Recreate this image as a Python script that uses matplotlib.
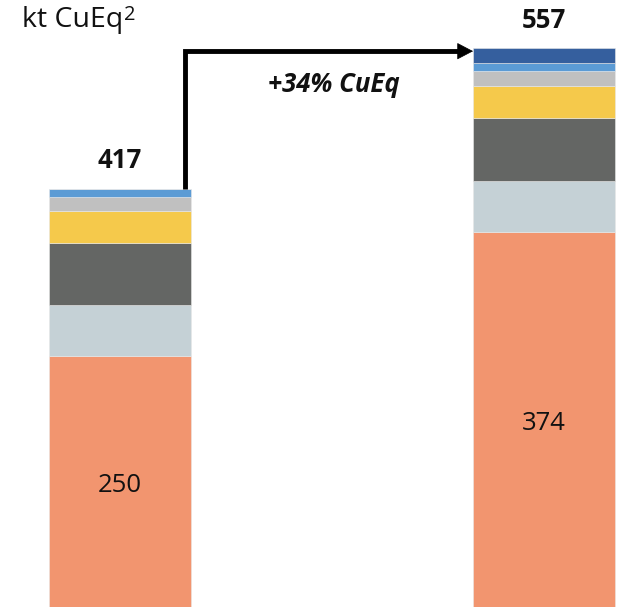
import matplotlib
matplotlib.use("Agg")
import matplotlib.pyplot as plt
import numpy as np

plt.rcParams['font.family'] = ['Open Sans', 'DejaVu Sans']

categories = ["Current", "Future"]
# segments from bottom to top
seg_names = ["Orange", "Light", "Dark", "Yellow", "Gray", "Blue", "DarkBlue"]
values_left = [250, 51, 62, 32, 14, 8, 0]
values_right = [374, 51, 62, 32, 15, 8, 15]
totals = [417, 557]
colors = ["#F2956F", "#C5D1D6", "#646664", "#F5C94B", "#C0C0C0", "#5B9BD5", "#355F9E"]
growth_label = "+34% CuEq"
unit_label = "kt CuEq"
unit_sup = "2"

fig = plt.figure(figsize=(6.28, 6.07), dpi=100)
ax = fig.add_axes([0, 0, 1, 1])
ax.set_xlim(-0.2832, 1.1987)
ax.set_ylim(0, 605)
ax.axis('off')

x = np.arange(len(categories))
width = 0.334
data = np.array([values_left, values_right]).T
bottom = np.zeros(2)
for i, (row, c) in enumerate(zip(data, colors)):
    ax.bar(x, row, width, bottom=bottom, color=c, edgecolor='#e8e8e8', linewidth=0.4)
    bottom += row

# orange segment labels
for xi, v in zip(x, data[0]):
    ax.annotate(str(v), (xi, v / 2), xytext=(0, -3), textcoords='offset points',
                ha='center', va='center', fontsize=18.5, color='#111111')

# totals
for xi, t in zip(x, totals):
    ax.annotate(str(t), (xi, t), xytext=(0, 20), textcoords='offset points',
                ha='center', va='center', fontsize=18.5, fontweight='bold', color='#111111')

# growth arrow
xv = x[0] + width / 2 - 0.013
yh = totals[1] - 3
xe = x[1] - width / 2
xh = xe - 0.035
ax.plot([xv, xv, xh + 0.005], [totals[0], yh, yh], color='black', lw=3.5,
        solid_capstyle='butt', solid_joinstyle='miter')
ax.annotate('', xy=(xe, yh), xytext=(xh, yh),
            arrowprops=dict(arrowstyle='-|>,head_length=1.05,head_width=0.55', lw=0.5, color='black',
                            shrinkA=0, shrinkB=0))
ax.text((x[0] + x[1]) / 2 + 0.005, 521, growth_label, ha='center', va='center', fontsize=18.5,
        fontweight='bold', fontstyle='italic', color='#111111')

t = fig.text(22 / 628, 1 - 27 / 607, unit_label, ha='left', va='baseline', fontsize=20.5, color='#111111')
fig.canvas.draw()
bb = t.get_window_extent()
fig.text(bb.x1 / 628 + 1 / 628, 1 - 20 / 607, unit_sup, ha='left', va='baseline', fontsize=14.5, color='#111111')

fig.savefig('out.png', dpi=100)
